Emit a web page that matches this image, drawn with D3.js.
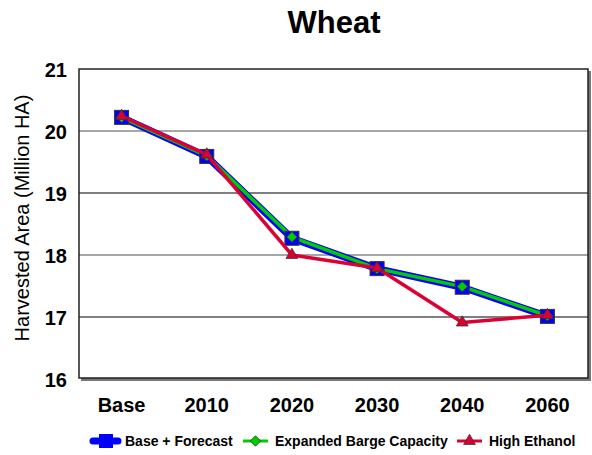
<!DOCTYPE html>
<html><head><meta charset="utf-8">
<script src="https://cdn.jsdelivr.net/npm/d3@7"></script>
<style>body{margin:0;background:#fff}svg{display:block}</style>
</head><body>
<script>
const categories = ["Base","2010","2020","2030","2040","2060"];
const baseForecast = [20.22, 19.59, 18.27, 17.78, 17.48, 17.01];
const expandedBarge = [20.22, 19.60, 18.29, 17.78, 17.49, 17.02];
const highEthanol = [20.24, 19.62, 18.00, 17.79, 16.91, 17.03];
const yTicks = [16,17,18,19,20,21];
const seriesNames = ["Base + Forecast","Expanded Barge Capacity","High Ethanol"];

const W=592,H=455;
const m={l:79,r:2,t:69,b:76};
const svg=d3.select("body").append("svg").attr("width",W).attr("height",H);
const x=d3.scaleBand().domain(categories).range([m.l,W-m.r]);
const y=d3.scaleLinear().domain([16,21]).range([H-m.b,m.t]);
const font="Arial, 'Liberation Sans', sans-serif";

// shadow
svg.append("rect").attr("x",m.l+2).attr("y",m.t+2).attr("width",W-m.r-m.l-1).attr("height",H-m.b-m.t)
  .attr("fill","#777");
svg.append("rect").attr("x",m.l).attr("y",m.t).attr("width",W-m.r-m.l-2).attr("height",H-m.b-m.t-1)
  .attr("fill","#fff");
// grid
svg.append("g").selectAll("line").data(yTicks.filter(d=>d>16&&d<21)).join("line")
  .attr("x1",m.l).attr("x2",W-m.r-2).attr("y1",d=>y(d)).attr("y2",d=>y(d))
  .attr("stroke",d=>d%2===0?"#888":"#000").attr("stroke-width",d=>d%2===0?1.5:1.2);
svg.append("rect").attr("x",m.l).attr("y",m.t).attr("width",W-m.r-m.l-2).attr("height",H-m.b-m.t-1)
  .attr("fill","none").attr("stroke","#222").attr("stroke-width",1.5);

// y axis labels
const ya=svg.append("g").attr("transform",`translate(${m.l-12},0)`)
  .call(d3.axisLeft(y).tickValues(yTicks).tickSize(0).tickPadding(0).tickFormat(d3.format("d")));
ya.select(".domain").remove();
ya.selectAll("text").attr("font-family",font).attr("font-size",20).attr("font-weight","bold").attr("fill","#000").attr("dy","0.36em");
// x axis labels
const xa=svg.append("g").attr("transform",`translate(0,${H-m.b+19})`)
  .call(d3.axisBottom(x).tickSize(0).tickPadding(0));
xa.select(".domain").remove();
xa.selectAll("text").attr("font-family",font).attr("font-size",20).attr("font-weight","bold").attr("fill","#000").attr("dy","0.72em");

// titles
svg.append("text").attr("x",334).attr("y",33).attr("text-anchor","middle").attr("font-family",font)
  .attr("font-size",31).attr("font-weight","bold").text("Wheat");
svg.append("text").attr("transform",`translate(29,218) rotate(-90)`).attr("text-anchor","middle")
  .attr("font-family",font).attr("font-size",20).text("Harvested Area (Million HA)");

const cx=c=>x(c)+x.bandwidth()/2;
const line=d3.line().x((d,i)=>cx(categories[i])).y(d=>y(d));
const tri=d3.symbol().type(d3.symbolTriangle).size(60);
const dia=d3.symbol().type(d3.symbolDiamond2).size(70);

// series 1
svg.append("path").attr("d",line(baseForecast)).attr("fill","none").attr("stroke","#0000ff").attr("stroke-width",7).attr("stroke-linejoin","round");
// series 2
svg.append("path").attr("d",line(expandedBarge)).attr("fill","none").attr("stroke","#00cc00").attr("stroke-width",3.5).attr("stroke-linejoin","round");
svg.append("g").selectAll("rect").data(baseForecast).join("rect")
  .attr("x",(d,i)=>cx(categories[i])-7).attr("y",d=>y(d)-7).attr("width",14).attr("height",14)
  .attr("fill","#0000ff").attr("stroke","#333").attr("stroke-width",1);
svg.append("g").selectAll("path").data(expandedBarge).join("path")
  .attr("d",dia).attr("transform",(d,i)=>`translate(${cx(categories[i])},${y(d)})`)
  .attr("fill","#00cc00").attr("stroke","#333").attr("stroke-width",0.8);
// series 3
svg.append("path").attr("d",line(highEthanol)).attr("fill","none").attr("stroke","#dd0033").attr("stroke-width",3.5).attr("stroke-linejoin","round");
svg.append("g").selectAll("path").data(highEthanol).join("path")
  .attr("d",tri).attr("transform",(d,i)=>`translate(${cx(categories[i])},${y(d)})`)
  .attr("fill","#dd0033").attr("stroke","#333").attr("stroke-width",0.8);

// legend
const ly=441;
const lg=svg.append("g").attr("font-family",font).attr("font-size",14).attr("font-weight","bold");
lg.append("line").attr("x1",93).attr("x2",118).attr("y1",ly).attr("y2",ly).attr("stroke","#0000ff").attr("stroke-width",7).attr("stroke-linecap","round");
lg.append("rect").attr("x",99).attr("y",ly-7).attr("width",14).attr("height",14).attr("fill","#0000ff");
lg.append("text").attr("x",125).attr("y",ly).attr("dy","0.36em").text(seriesNames[0]);
lg.append("line").attr("x1",243).attr("x2",268).attr("y1",ly).attr("y2",ly).attr("stroke","#00cc00").attr("stroke-width",3);
lg.append("path").attr("d",dia).attr("transform",`translate(255.5,${ly})`).attr("fill","#00cc00").attr("stroke","#333").attr("stroke-width",0.8);
lg.append("text").attr("x",275).attr("y",ly).attr("dy","0.36em").text(seriesNames[1]);
lg.append("line").attr("x1",457).attr("x2",482).attr("y1",ly).attr("y2",ly).attr("stroke","#dd0033").attr("stroke-width",3);
lg.append("path").attr("d",tri).attr("transform",`translate(469.5,${ly})`).attr("fill","#dd0033").attr("stroke","#333").attr("stroke-width",0.8);
lg.append("text").attr("x",489).attr("y",ly).attr("dy","0.36em").text(seriesNames[2]);
</script>
</body></html>
